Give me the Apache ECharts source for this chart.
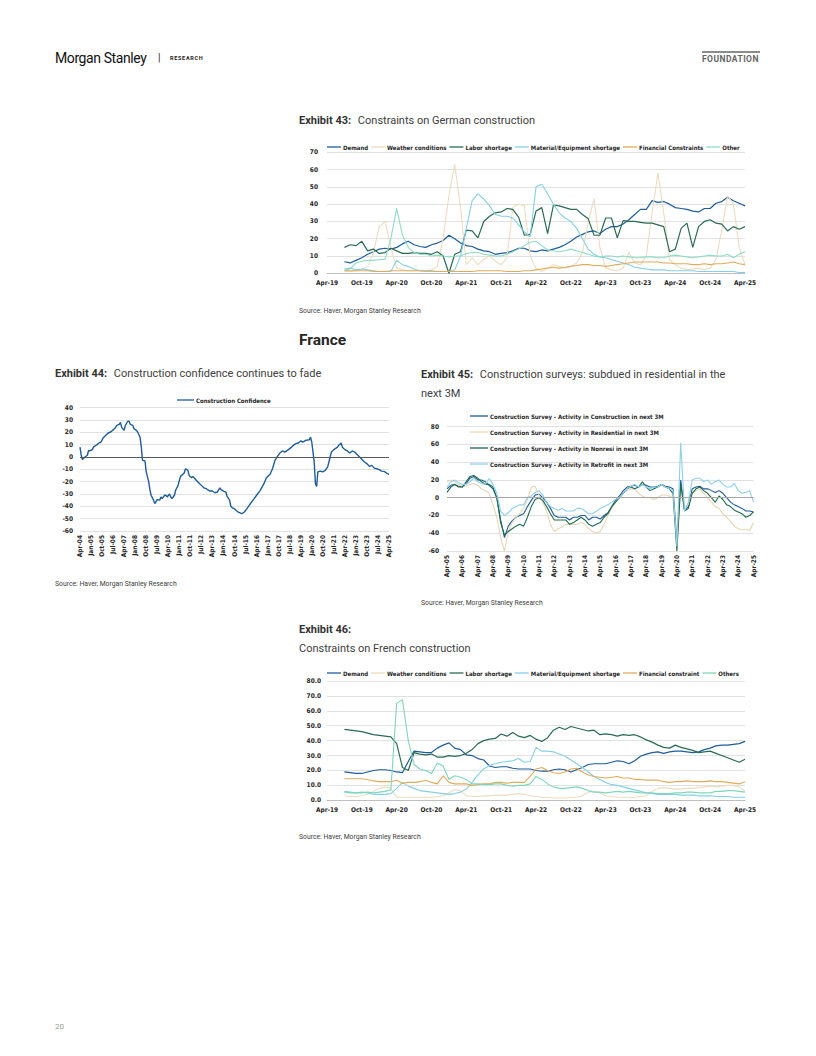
<!DOCTYPE html>
<html><head><meta charset="utf-8">
<script src="https://cdn.jsdelivr.net/npm/echarts/dist/echarts.min.js"></script>
<style>
html,body{margin:0;padding:0;background:#fff;}
#page{position:relative;width:816px;height:1056px;overflow:hidden;font-family:Roboto,"Noto Sans",sans-serif;}
#chart{position:absolute;left:0;top:0;width:816px;height:1056px;}
.t{position:absolute;white-space:nowrap;color:#404040;}
.ttl{font-size:11px;line-height:14px;color:#404040;}
.ttl b{color:#333;font-weight:700;margin-right:4px;}
.src{font-size:6.8px;line-height:8px;color:#404040;}
</style></head>
<body><div id="page">
<div id="chart"></div>
<div class="t" style="left:55px;top:50px;font-size:14px;line-height:16px;color:#111;letter-spacing:-0.4px;">Morgan Stanley</div>
<div class="t" style="left:158px;top:52px;font-size:10px;line-height:12px;color:#111;">|</div>
<div class="t" style="left:170px;top:55px;font-size:5.5px;line-height:6px;font-weight:700;color:#222;letter-spacing:0.7px;">RESEARCH</div>
<div style="position:absolute;left:702px;top:51px;width:58px;height:2px;background:#8c8c8c;"></div>
<div class="t" style="left:702px;top:55px;font-size:8.5px;line-height:8px;font-weight:700;color:#666;letter-spacing:0.45px;">FOUNDATION</div>

<div class="t ttl" style="left:299px;top:114px;"><b>Exhibit 43:</b> Constraints on German construction</div>
<div class="t src" style="left:299px;top:307px;">Source: Haver, Morgan Stanley Research</div>
<div class="t" style="left:299px;top:331px;font-size:15.5px;line-height:18px;font-weight:700;color:#262626;">France</div>
<div class="t ttl" style="left:55px;top:367px;"><b>Exhibit 44:</b> Construction confidence continues to fade</div>
<div class="t src" style="left:55px;top:580px;">Source: Haver, Morgan Stanley Research</div>
<div class="t ttl" style="left:421px;top:364.5px;line-height:19px;"><b>Exhibit 45:</b> Construction surveys: subdued in residential in the<br>next 3M</div>
<div class="t src" style="left:421px;top:599px;">Source: Haver, Morgan Stanley Research</div>
<div class="t ttl" style="left:299px;top:619.5px;line-height:19px;"><b>Exhibit 46:</b><br>Constraints on French construction</div>
<div class="t src" style="left:299px;top:833px;">Source: Haver, Morgan Stanley Research</div>
<div class="t" style="left:55px;top:1023px;font-size:8px;line-height:8px;color:#999;">20</div>
</div>
<script>
// ---------- category helpers ----------
function monthLabels(y0, m0, n, step) {
  const M = ['Jan','Feb','Mar','Apr','May','Jun','Jul','Aug','Sep','Oct','Nov','Dec'];
  const out = [];
  for (let i = 0; i < n; i++) {
    const t = m0 + i * step;
    const y = y0 + Math.floor(t / 12);
    out.push(M[t % 12] + '-' + String(y % 100).padStart(2, '0'));
  }
  return out;
}
const deMonths = monthLabels(2019, 3, 73, 1);       // Apr-19 .. Apr-25
const confMonths = monthLabels(2004, 3, 253, 1);    // Apr-04 .. Apr-25
const surveyQuarters = monthLabels(2005, 3, 81, 3); // Apr-05 .. Apr-25
const frMonths = monthLabels(2019, 3, 73, 1);       // Apr-19 .. Apr-25

// ---------- Exhibit 43: Germany constraints (monthly) ----------
const deDemand = [null,null,null,
 6.7,6,7.5,9,11,12.5,14,14.5,14,15,
 17,18.5,16.5,15.5,15,16.5,17.5,19,22,20,
 17.5,16,15.5,14,13,12.5,11,11.5,12,13,
 14.5,14.5,13,12.5,13.5,13,14,15,16.5,18.5,
 21,22.5,24,24.5,23,25.5,27,27,28.5,31,
 34,37,37,42,41,41.5,40,38,37.5,37,
 36,35.5,37.5,37.5,40.5,41.5,44,42,40.5,39];
const deWeather = [null,null,null,
 1,1,1.5,2,4,12,27,30,15,3,
 2,1.5,1.5,1.5,1.5,2,4,20,45,63,
 38,5,9,5,8,10,7,5,9,38,
 40,39,10,3,1,3,5,4,3,4,
 6,12,30,43,15,3,2,1.5,3,12,
 6,5,10,35,58,35,8,5,3,2,
 2.5,3,2,3,8,25,45,40,15,5];
const deLabor = [null,null,null,
 15,16.5,16,18.5,13,14,11.5,12,14.5,13,
 11.5,11.5,12,11.5,11.5,11,12.5,10,0,11,
 12.5,25,24.5,20.5,30,33,35,35.5,37.5,37,
 32.5,22,22.5,36,38,23,39.5,39,38,37,
 37,34,31.5,22,22,32,32,20.5,30.5,30,
 30,29.5,29,29,28,27,12.5,14,26,29,
 15,27,30,31,29,28.5,24.5,27,25.5,27];
const deMaterial = [null,null,null,
 2.5,3,2,2.5,2,1.5,1,1,1,7.5,
 5,4,2.5,1.5,1,1,1,1,1,2,
 10,26,42,46,43,39,34,33,33,32,
 28,24,21,50,51.5,46,40,35,32,30,
 26,20,14,11,9.5,9,8,7,6,5,
 3.5,3,2.5,2,2,2,1.5,1.5,1.5,1.5,
 1.5,1,1,1,1,1,1,1,0.5,0.5];
const deFinancial = [null,null,null,
 1.5,1.5,1.5,1.5,1.5,1,1,1,1.5,1.5,
 1.5,1.5,1.5,1.5,1.5,1.5,1,1,1,1,
 1,1,1,1.5,1.5,1.5,1.5,1.5,1,1,
 1,1.5,1.5,2,2.5,3,3.5,3,3.5,4,
 4.5,5,5,4.5,4.5,4,4.5,5,5.5,6,
 6.5,6.5,6.5,6.5,6.5,6,6,5.5,5.5,5.5,
 5,5,5.5,5,5.5,5.5,6,6.5,5.5,5];
const deOther = [null,null,null,
 2,2.5,6,7,7.5,7.5,8,8,20,37.5,
 22,15,12,11,11,10,10.5,10,9.5,10,
 10,11.5,12,12,11,10.5,10,10,11,12.5,
 14,16,18,18.5,16,13.5,13,12.5,13,14,
 13,12,11,10,9.5,10,10,9.5,10,9.5,
 9,9,9.5,9.5,9,9,10,10.5,10,9.5,
 9,9.5,10,10.5,10,10,11,9,11,12.5];

// ---------- Exhibit 44: Construction confidence (readings; month index from Apr-04) ----------
const confObsMonth = [
 0,1,2,4,6,7,8,10,11,13,14,15,17,19,21,23,25,27,29,30,32,33,34,36,37,39,40,41,43,44,
 46,47,49,50,51,53,54,56,57,58,60,61,63,65,66,67,69,70,71,73,74,75,77,78,80,81,82,85,86,88,
 89,91,92,93,95,97,99,101,103,104,106,108,110,112,114,115,117,119,120,122,123,124,126,127,129,132,134,136,139,142,
 144,147,150,152,155,157,159,161,163,165,167,170,172,174,176,178,180,182,184,187,188,189,191,192,193,194,196,198,200,202,
 204,205,207,210,211,213,214,216,218,220,222,224,226,228,230,232,234,236,238,240,242,244,246,248,250,252];
const confObsValue = [
 8,1.4,-2,0,1.4,5.4,4.9,6,8,9.5,10,11,12,15.7,17.6,19.5,20.3,22,24,25.7,26.5,28,24,21.6,25.7,29,29,26.5,25.7,23,
 21.6,20.3,16,8,-2.7,-3.2,-12,-20,-26.5,-31,-35,-37.8,-34.6,-35,-32.4,-33.8,-31,-31,-32.4,-30,-32.4,-33.8,-31,-27,-23,-19,-15.7,-13,-9.5,-10.8,
 -14.9,-16.8,-15.7,-16.8,-19,-21,-23,-25,-25.7,-26.5,-27.6,-27.6,-29,-28.4,-25,-26.5,-27.6,-28.4,-32,-35,-40,-41,-42,-43,-44.6,-46,-44.6,-42,-37.8,-33.8,
 -31,-27,-21.6,-16.8,-14,-9.5,-2.7,0.5,3.2,4.9,4,6,7.6,9.5,10.8,11.4,13,12.2,13.5,14,16.2,12.2,-4,-21.6,-23.8,-12,-11.4,-12,-10.8,-8,
 0,4,6,8,9.5,11.4,8,6,4.9,3.2,4.9,4,2,0,-2,-4,-5.4,-7.6,-6.8,-9,-9.5,-10.3,-11.4,-11.6,-13,-14];

// ---------- Exhibit 45: Construction surveys (quarterly) ----------
const svConstruction = [
 10,14,15,13,12,16,22,24,20,20,
 18,14,10,0,-25,-45,-32,-26,-22,-20,
 -18,-10,-3,3,4,0,-5,-12,-20,-22,
 -22,-22,-25,-22,-22,-20,-20,-25,-22,-22,
 -24,-20,-17,-10,-3,2,8,12,13,14,
 12,15,14,12,12,13,15,13,12,10,
 -50,20,-14,-10,10,12,13,10,10,8,
 6,8,5,0,-5,-8,-10,-12,-15,-15,
 -16];
const svResidential = [
 18,20,18,15,13,13,15,16,14,10,
 8,5,-8,-22,-45,-60,-38,-28,-22,-18,
 -12,-2,12,13,3,-5,-15,-30,-38,-35,
 -33,-30,-30,-30,-30,-28,-30,-35,-38,-40,
 -38,-30,-20,-12,-5,0,5,8,10,10,
 5,2,0,0,-2,0,3,3,2,0,
 -50,10,-10,-8,5,8,10,5,0,-5,
 -10,-12,-18,-22,-27,-32,-35,-36,-36,-37,
 -28];
const svNonresi = [
 6,12,15,12,12,18,24,25,22,18,
 15,15,12,0,-28,-42,-38,-35,-32,-30,
 -32,-22,-10,-2,0,-3,-10,-18,-25,-25,
 -25,-25,-30,-28,-25,-22,-25,-30,-32,-30,
 -28,-22,-18,-10,-5,0,5,10,12,10,
 12,18,12,8,10,12,15,12,10,5,
 -60,15,-15,-12,5,10,12,8,5,0,
 -5,2,-2,-8,-10,-14,-16,-18,-22,-20,
 -16];
const svRetrofit = [
 12,18,20,17,15,15,18,22,18,16,
 15,22,15,5,-15,-20,-17,-12,-10,-8,
 -8,0,2,6,8,3,-5,-10,-12,-14,
 -12,-15,-15,-15,-12,-12,-15,-18,-18,-15,
 -12,-10,-8,-5,-2,0,5,10,13,15,
 12,15,12,10,12,12,15,12,10,8,
 -55,62,-15,-5,20,22,22,18,20,15,
 18,20,15,12,12,16,8,5,6,8,
 -5];

// ---------- Exhibit 46: France constraints (monthly) ----------
const frDemand = [null,null,null,
 19,18.5,18,18,19,20,20.5,20.5,20,19,
 18.5,26,33,32.5,32,32,35,37,38.5,35,
 34,30.5,30,28,27,23,22,22.5,22.5,21.5,
 21,21,21,20,19.5,19.5,20.5,21,20.5,19,
 20.5,22,24,24.5,24.5,24.5,25.5,26.5,26,24.5,
 26.5,29.5,31,32,32.5,31.5,32.5,33,33,32.5,
 32,32.5,34,35,36.5,37,37,37.5,38,39.5];
const frWeather = [null,null,null,
 3,2.5,2.5,3,4,6,8,9,8,2,
 2,2,2,2,2,2,2.5,3,5,7,
 6.5,3,2.5,2.5,3,3,3.5,3.5,3.5,4,
 4.5,4,3,2.5,2,2,1.5,1.5,1.5,2,
 2,3,5.5,6,5,3,2.5,2,2,2,
 2,2.5,3,6,8,8.5,8,7.5,7.5,8,
 8,8.5,9,9.5,9,9.5,10,10,9,6];
const frLabor = [null,null,null,
 47.5,47,46.5,46,45,44,43.5,43,42.5,38,
 22,20,32,31,30.5,31,29,29,30,29.5,
 30,31.5,34,38,40,41,41.5,44.5,43,45.5,
 43,42,43.5,41,39.5,42,47,49,47.5,49.5,
 48.5,47.5,46.5,47,44,44.5,44,43,44,43.5,
 44,42.5,40.5,39,37,35.5,35,37,35.5,34.5,
 33.5,32,32.5,33,31.5,30,28.5,27,25.5,27.5];
const frMaterial = [null,null,null,
 6,5.5,5,5.5,5,4,4,4,4.5,8,
 12,9.5,8,6.5,6,5.5,5,4.5,4,4.5,
 5.5,7.5,12,17,21,23.5,24.5,25.5,26,26.5,
 28,25.5,26,35.5,33,33,32.5,31,29.5,27,
 24.5,22,19,16,14,12,10.5,10,9,8,
 7,6,5,4.5,4,4,4,4,3.5,3.5,
 3.5,3,3,3,2.5,2.5,2.5,2,2,2];
const frFinancial = [null,null,null,
 14.5,14.5,14.5,14.5,14,13,12.5,12.5,12.5,13.5,
 11.5,12,12,12.5,13.5,12,11,16.5,12,11,
 11,11,10,10.5,11,11,12,12,11.5,12,
 12,12,16,21,22,20,18.5,18,19,21,
 21.5,19,17,16,15.5,15,15.5,16,15,15,
 14,14,13.5,13.5,13.5,12.5,12,12.5,12.5,13,
 12.5,12.5,12.5,13,12.5,12.5,12,11.5,11,12.5];
const frOthers = [null,null,null,
 5.5,5,5,5,5.5,5,5.5,6,7,65,
 67.5,40,24,21,20,18,25,23,14,16.5,
 15.5,14,11,11,10.5,10.5,11,11,10,9.5,
 10,10,11,16,14,11,9,8,8,8.5,
 9,8,6.5,5.5,5.5,5,5.5,6,5.5,6,
 5.5,5,5,5,4.5,4.5,4.5,5,5,5.5,
 5.5,5,5,5,6,6,6.5,6.5,6,5.5];

// ---------- styles ----------
const C = {
  demand:'#1f5c99', weather:'#eddcc0', labor:'#2a6b52',
  material:'#86cfe6', financial:'#e0ac5c', other:'#8fdcc6'
};
const NARROW = "'Liberation Sans Narrow','DejaVu Sans Condensed',sans-serif";
const lab = {fontFamily:NARROW, fontWeight:'bold', fontSize:6.5, color:'#262626'};
const gridLine = {lineStyle:{color:'#d9d9d9', width:0.8}};

function line(name, data, color, idx, width) {
  return {name, type:'line', xAxisIndex:idx, yAxisIndex:idx, data,
    symbol:'none', showSymbol:false, lineStyle:{color, width}, itemStyle:{color},
    emphasis:{disabled:true}, animation:false};
}
function zeroLine(color) {
  return {silent:true, symbol:'none', label:{show:false},
    lineStyle:{color, width:1, type:'solid'}, data:[{yAxis:0}], animation:false};
}
const legendText = {fontFamily:NARROW, fontWeight:'bold', fontSize:6, lineHeight:8, color:'#262626', padding:[0,0,0,-3]};
function legend(extra) {
  return Object.assign({padding:0, icon:'rect', itemHeight:1.3, selectedMode:false, textStyle:legendText}, extra);
}

const chart = echarts.init(document.getElementById('chart'), null, {renderer:'svg', width:816, height:1056});

const s44 = line('Construction Confidence', confObsMonth.map((m, i) => [m, confObsValue[i]]), C.demand, 1, 1.4);
s44.markLine = zeroLine('#595959');
const s45a = line('Construction Survey - Activity in Construction in next 3M', svConstruction, '#1f5c99', 2, 1.1);
s45a.markLine = zeroLine('#a6a6a6');

chart.setOption({
  animation:false,
  grid:[
    {left:327, top:152.3, width:418, height:121},
    {left:80, top:407.7, width:309, height:123.3},
    {left:447, top:426.7, width:306.5, height:124.3},
    {left:327, top:681, width:418, height:119.3}
  ],
  legend:[
    legend({left:327, top:143, itemWidth:14, itemGap:3,
     data:['Demand','Weather conditions','Labor shortage','Material/Equipment shortage','Financial Constraints','Other']}),
    legend({left:177, top:396, itemWidth:17,
     data:['Construction Confidence']}),
    legend({left:470, top:412, orient:'vertical', itemWidth:18, itemGap:8,
     data:['Construction Survey - Activity in Construction in next 3M','Construction Survey - Activity in Residential in next 3M',
           'Construction Survey - Activity in Nonresi in next 3M','Construction Survey - Activity in Retrofit in next 3M']}),
    legend({left:327, top:669, itemWidth:14, itemGap:3,
     data:['Demand','Weather conditions','Labor shortage','Material/Equipment shortage','Financial constraint','Others']})
  ],
  xAxis:[
    {gridIndex:0, type:'category', data:deMonths, boundaryGap:false,
     axisLine:{lineStyle:{color:'#bfbfbf'}}, axisTick:{show:false},
     axisLabel:Object.assign({interval:5, margin:6}, lab), splitLine:{show:false}},
    {gridIndex:1, type:'category', data:confMonths, boundaryGap:false,
     axisLine:{show:false}, axisTick:{show:false},
     axisLabel:Object.assign({interval:8, rotate:90, margin:4}, lab), splitLine:{show:false}},
    {gridIndex:2, type:'category', data:surveyQuarters, boundaryGap:false,
     axisLine:{show:false}, axisTick:{show:false},
     axisLabel:Object.assign({interval:3, rotate:90, margin:4}, lab), splitLine:{show:false}},
    {gridIndex:3, type:'category', data:frMonths, boundaryGap:false,
     axisLine:{lineStyle:{color:'#bfbfbf'}}, axisTick:{show:false},
     axisLabel:Object.assign({interval:5, margin:6}, lab), splitLine:{show:false}}
  ],
  yAxis:[
    {gridIndex:0, type:'value', min:0, max:70, interval:10, axisLine:{show:false}, axisTick:{show:false},
     axisLabel:Object.assign({margin:9}, lab), splitLine:gridLine},
    {gridIndex:1, type:'value', min:-60, max:40, interval:10, axisLine:{show:false}, axisTick:{show:false},
     axisLabel:Object.assign({margin:7}, lab), splitLine:gridLine},
    {gridIndex:2, type:'value', min:-60, max:80, interval:20, axisLine:{show:false}, axisTick:{show:false},
     axisLabel:Object.assign({margin:8}, lab), splitLine:gridLine},
    {gridIndex:3, type:'value', min:0, max:80, interval:10, axisLine:{show:false}, axisTick:{show:false},
     axisLabel:Object.assign({margin:6, formatter:v=>v.toFixed(1)}, lab), splitLine:gridLine}
  ],
  series:[
    line('Demand', deDemand, C.demand, 0, 1.2),
    line('Weather conditions', deWeather, C.weather, 0, 1.1),
    line('Labor shortage', deLabor, C.labor, 0, 1.2),
    line('Material/Equipment shortage', deMaterial, C.material, 0, 1.1),
    line('Financial Constraints', deFinancial, C.financial, 0, 1.1),
    line('Other', deOther, C.other, 0, 1.1),
    s44,
    s45a,
    line('Construction Survey - Activity in Residential in next 3M', svResidential, '#e9d6b6', 2, 1.1),
    line('Construction Survey - Activity in Nonresi in next 3M', svNonresi, '#1e6a4e', 2, 1.1),
    line('Construction Survey - Activity in Retrofit in next 3M', svRetrofit, '#8fd0ea', 2, 1.1),
    line('Demand', frDemand, C.demand, 3, 1.2),
    line('Weather conditions', frWeather, C.weather, 3, 1.1),
    line('Labor shortage', frLabor, C.labor, 3, 1.2),
    line('Material/Equipment shortage', frMaterial, C.material, 3, 1.1),
    line('Financial constraint', frFinancial, C.financial, 3, 1.1),
    line('Others', frOthers, '#7fd6bd', 3, 1.1)
  ]
});
</script>
</body></html>
